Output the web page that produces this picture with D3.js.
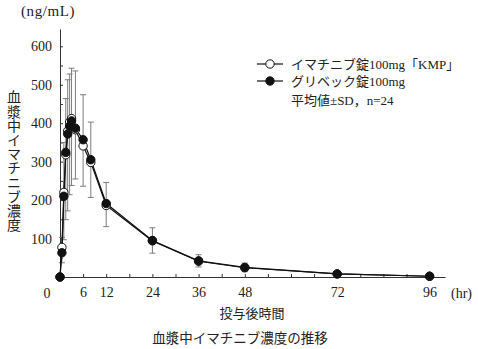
<!DOCTYPE html>
<html>
<head>
<meta charset="utf-8">
<script src="https://cdn.jsdelivr.net/npm/d3@7"></script>
<style>
  html, body { margin: 0; padding: 0; background: #fff; }
  svg { display: block; }
  .num { font-family: "Liberation Serif", "Noto Sans CJK JP", serif; }
  .jp { font-family: "Noto Sans CJK JP", sans-serif; }
</style>
</head>
<body>
<svg id="chart" width="478" height="349"></svg>
<script>
// Sampling times after dosing (hr)
const times = [0, 0.5, 1, 1.5, 2, 2.5, 3, 4, 6, 8, 12, 24, 36, 48, 72, 96];

// Mean plasma concentration (ng/mL)
const kmpMean     = [0, 77, 220, 318, 380, 403, 412, 383, 341, 298, 186, 94, 41, 24, 8, 2];
const glivecMean  = [0, 63, 210, 324, 372, 392, 406, 387, 357, 305, 191, 95, 42, 25, 8, 2];

// Standard deviations (ng/mL)
const kmpSD    = [0, 40, 123, 169, 208, 189, 174, 128, 105, 91, 55, 32, 15, 10, 4, 1];
const glivecSD = [0, 40, 140, 140, 141, 136, 137, 149, 117, 98, 55, 33, 16, 11, 4, 1];

// Axis ticks and labels
const xTickValues = [6, 12, 18, 24, 30, 36, 42, 48, 54, 60, 66, 72, 78, 84, 90, 96];
const xTickLabels = [0, 6, 12, 24, 36, 48, 72, 96];
const yTickValues = [50, 100, 150, 200, 250, 300, 350, 400, 450, 500, 550, 600];
const yTickLabels = [100, 200, 300, 400, 500, 600];

const seriesNames = ["イマチニブ錠100mg「KMP」", "グリベック錠100mg"];
const legendNote = "平均値±SD，n=24";

const svg = d3.select("#chart");

const x = d3.scaleLinear().domain([0, 100]).range([60, 445]);
const y = d3.scaleLinear().domain([0, 645]).range([277, 29]);

const axisColor = "#333";
const barColor = "#7c7c7c";

// Y axis (ticks point inward)
const yAxis = svg.append("g")
  .attr("transform", `translate(${x(0)},0)`)
  .call(d3.axisLeft(y)
    .tickValues(yTickValues)
    .tickSizeInner(-3)
    .tickSizeOuter(0)
    .tickPadding(8)
    .tickFormat(d => yTickLabels.includes(d) ? d : ""));
yAxis.select(".domain").attr("stroke", axisColor);
yAxis.selectAll(".tick line").attr("stroke", axisColor);
yAxis.selectAll("text").attr("class", "num").attr("font-size", 14).attr("fill", "#222");

// X axis (ticks point inward)
const xAxis = svg.append("g")
  .attr("transform", `translate(0,${y(0)})`)
  .call(d3.axisBottom(x)
    .tickValues(xTickValues)
    .tickSizeInner(-3)
    .tickSizeOuter(0)
    .tickPadding(10)
    .tickFormat(d => xTickLabels.includes(d) ? d : ""));
xAxis.select(".domain").attr("stroke", axisColor);
xAxis.selectAll(".tick line").attr("stroke", axisColor);
xAxis.selectAll("text").attr("class", "num").attr("font-size", 14).attr("fill", "#222");

// Shared origin label at the corner
svg.append("text").attr("class", "num")
  .attr("x", x(xTickLabels[0]) - 13).attr("y", y(0) + 21)
  .attr("text-anchor", "middle").attr("font-size", 14).attr("fill", "#222")
  .text(xTickLabels[0]);

// Units
svg.append("text").attr("class", "num")
  .attr("x", 451).attr("y", y(0) + 21)
  .attr("font-size", 14).attr("fill", "#222").text("(hr)");
svg.append("text").attr("class", "num")
  .attr("x", 21).attr("y", 16)
  .attr("font-size", 15).attr("letter-spacing", 0.6).attr("fill", "#222").text("(ng/mL)");

// Axis titles
svg.append("text").attr("class", "jp")
  .attr("x", 14).attr("y", 161)
  .attr("text-anchor", "middle")
  .style("writing-mode", "vertical-rl")
  .attr("font-size", 14).attr("letter-spacing", 0.2).attr("fill", "#222")
  .text("血漿中イマチニブ濃度");
svg.append("text").attr("class", "jp")
  .attr("x", 252).attr("y", 318)
  .attr("text-anchor", "middle").attr("font-size", 13).attr("fill", "#222")
  .text("投与後時間");
svg.append("text").attr("class", "jp")
  .attr("x", 240).attr("y", 343)
  .attr("text-anchor", "middle").attr("font-size", 13.5).attr("fill", "#222")
  .text("血漿中イマチニブ濃度の推移");

// Error bars: reference product upward, test product downward
const cap = 3;
function errorBars(mean, sd, dir) {
  const g = svg.append("g").attr("stroke", barColor).attr("stroke-width", 1).attr("fill", "none");
  times.forEach((t, i) => {
    if (sd[i] <= 0) return;
    const y0 = y(mean[i]);
    const y1 = y(mean[i] + dir * sd[i]);
    g.append("line").attr("x1", x(t)).attr("x2", x(t)).attr("y1", y0).attr("y2", y1);
    g.append("line").attr("x1", x(t) - cap).attr("x2", x(t) + cap).attr("y1", y1).attr("y2", y1);
  });
}
errorBars(glivecMean, glivecSD, 1);
errorBars(kmpMean, kmpSD, -1);

// Mean lines
const line = d3.line().x((d, i) => x(times[i])).y(d => y(d));
svg.append("path").datum(kmpMean).attr("d", line)
  .attr("fill", "none").attr("stroke", "#111").attr("stroke-width", 1.2);
svg.append("path").datum(glivecMean).attr("d", line)
  .attr("fill", "none").attr("stroke", "#111").attr("stroke-width", 1.2);

// Markers
const r = 4.2;
svg.append("g").selectAll("circle").data(kmpMean).join("circle")
  .attr("cx", (d, i) => x(times[i])).attr("cy", d => y(d)).attr("r", r)
  .attr("fill", "#fff").attr("stroke", "#111").attr("stroke-width", 1);
svg.append("g").selectAll("circle").data(glivecMean).join("circle")
  .attr("cx", (d, i) => x(times[i])).attr("cy", d => y(d)).attr("r", r)
  .attr("fill", "#111").attr("stroke", "#111").attr("stroke-width", 1);

// Legend
const legend = svg.append("g");
const legendRows = [
  { name: seriesNames[0], fill: "#fff", y: 64 },
  { name: seriesNames[1], fill: "#111", y: 81 }
];
legendRows.forEach(row => {
  legend.append("line").attr("x1", 257).attr("x2", 283).attr("y1", row.y).attr("y2", row.y)
    .attr("stroke", "#111").attr("stroke-width", 1.2);
  legend.append("circle").attr("cx", 270).attr("cy", row.y).attr("r", r)
    .attr("fill", row.fill).attr("stroke", "#111").attr("stroke-width", 1);
  legend.append("text").attr("class", "num").attr("x", 291).attr("y", row.y)
    .attr("dy", "0.36em").attr("font-size", 13).attr("fill", "#222").text(row.name);
});
legend.append("text").attr("class", "num").attr("x", 291).attr("y", 100)
  .attr("dy", "0.36em").attr("font-size", 13).attr("fill", "#222").text(legendNote);
</script>
</body>
</html>
